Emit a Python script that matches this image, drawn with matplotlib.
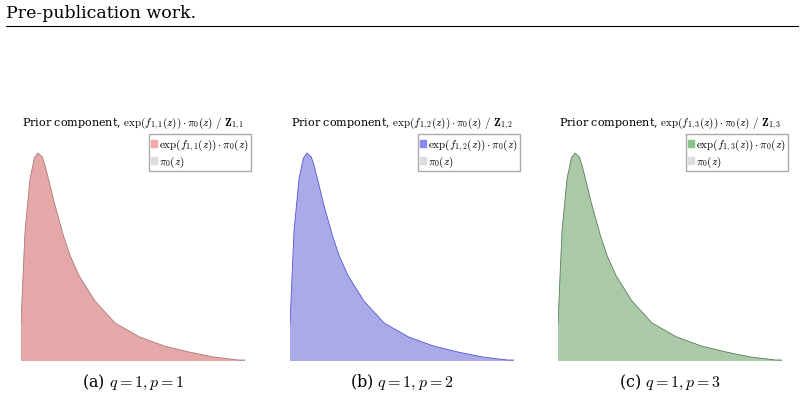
import matplotlib.pyplot as plt
from matplotlib.patches import Patch

plt.rcParams['font.family'] = 'DejaVu Serif'
plt.rcParams['mathtext.fontset'] = 'cm'

# density (same shape in all three panels)
z = [0.0, 0.01, 0.018, 0.04, 0.06, 0.076, 0.095, 0.107, 0.125, 0.15, 0.19, 0.22,
     0.26, 0.33, 0.42, 0.53, 0.64, 0.75, 0.86, 0.97, 1.0]
dens = [37, 90, 130, 182, 203, 208, 204, 196, 180, 157, 125, 105,
        85, 60, 38, 24, 15, 9, 4, 1, 1]

panels = ["1,1", "1,2", "1,3"]
captions = [r"(a) $q = 1, p = 1$", r"(b) $q = 1, p = 2$", r"(c) $q = 1, p = 3$"]
fills = ["#e4a8a8", "#aaaae8", "#a9c9a9"]
edges = ["#b07878", "#5555d5", "#5a7d5a"]
legcols = ["#f4a8a8", "#8888f0", "#88c088"]

fig = plt.figure(figsize=(8.04, 4.02), dpi=100)
fig.text(0.008, 0.945, "Pre-publication work.", fontsize=12.5, ha='left', va='bottom')
fig.add_artist(plt.Line2D([0.008, 0.992], [0.933, 0.933], color='black', lw=0.8))

lefts = [21, 290, 558]
for i, k in enumerate(panels):
    ax = fig.add_axes([lefts[i] / 804, 40 / 402, 224 / 804, 230 / 402])
    ax.fill_between(z, dens, 0, color=fills[i], edgecolor='none')
    ax.plot(z, dens, color=edges[i], lw=0.6)
    ax.set_xlim(0, 1)
    ax.set_ylim(0, 230)
    ax.axis('off')
    ax.set_title(r"Prior component, $\exp(f_{%s}(z))\cdot\pi_0(z)\ /\ \mathbf{Z}_{%s}$" % (k, k),
                 fontsize=8, pad=2)
    handles = [Patch(color=legcols[i], label=r"$\exp(f_{%s}(z))\cdot\pi_0(z)$" % k),
               Patch(color="#dddddd", label=r"$\pi_0(z)$")]
    ax.legend(handles=handles, loc='upper right', bbox_to_anchor=(1.05, 1.01), fontsize=8,
              handlelength=0.5, handleheight=0.6, handletextpad=0.2, borderpad=0.2,
              labelspacing=0.1, fancybox=False, edgecolor='#aaaaaa', framealpha=1)
    fig.text((lefts[i] + 112) / 804, 20 / 402, captions[i], fontsize=11.5, ha='center', va='center')

fig.savefig("out.png", dpi=100)
